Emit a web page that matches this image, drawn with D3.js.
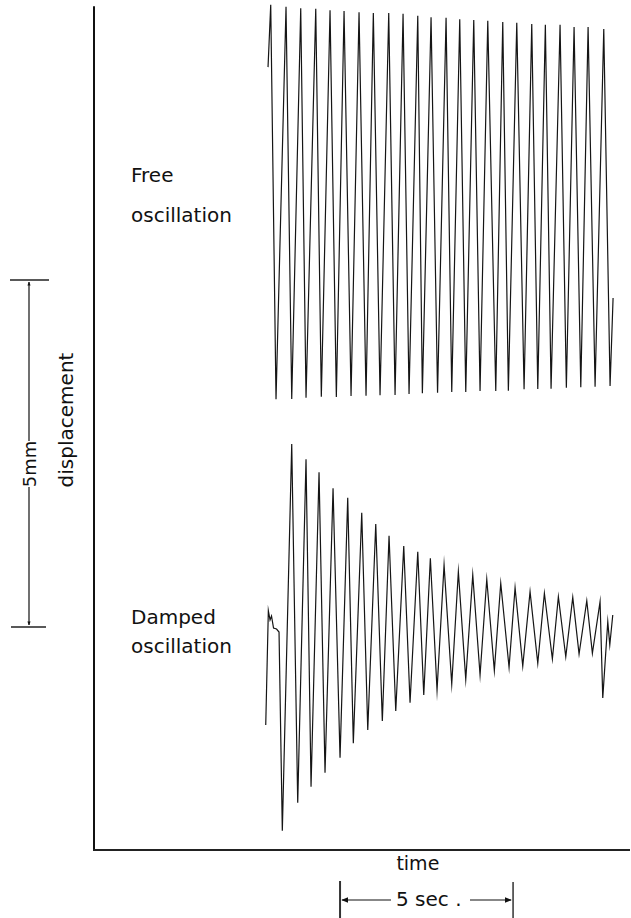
<!DOCTYPE html>
<html>
<head>
<meta charset="utf-8">
<script src="https://cdn.jsdelivr.net/npm/d3@7"></script>
<style>
  body { margin: 0; background: #fff; }
  svg { display: block; }
</style>
</head>
<body>
<svg id="chart"></svg>
<script>
// time in seconds, displacement in mm
const freeStart = [5.000, 11.28];
const freePeakT = [5.078, 5.520, 5.945, 6.379, 6.792, 7.197, 7.630, 8.043, 8.488, 8.902, 9.327, 9.711,
                   10.145, 10.540, 10.945, 11.350, 11.783, 12.188, 12.621, 13.014, 13.439, 13.844, 14.249, 14.702];
const freePeakY = [12.18, 12.15, 12.13, 12.12, 12.10, 12.09, 12.07, 12.06, 12.06, 12.05, 12.02, 12.00,
                   11.99, 11.97, 11.96, 11.95, 11.93, 11.92, 11.90, 11.89, 11.89, 11.86, 11.86, 11.83];
const freeTroughT = [5.231, 5.685, 6.098, 6.540, 6.974, 7.399, 7.832, 8.237, 8.671, 9.075, 9.460, 9.899,
                     10.309, 10.714, 11.127, 11.581, 11.945, 12.399, 12.795, 13.179, 13.621, 14.038, 14.451, 14.884];
const freeTroughY = [6.494, 6.499, 6.517, 6.532, 6.527, 6.542, 6.546, 6.552, 6.556, 6.571, 6.581, 6.589,
                     6.599, 6.599, 6.614, 6.614, 6.618, 6.638, 6.643, 6.647, 6.661, 6.667, 6.676, 6.686];
const freeEnd = [14.971, 7.954];

const dampStart = [[4.934, 1.801], [5.009, 3.448], [5.058, 3.314], [5.101, 3.372],
                   [5.159, 3.199], [5.246, 3.184], [5.318, 3.141]];
const dampTroughT = [5.413, 5.858, 6.243, 6.647, 7.081, 7.465, 7.882, 8.303, 8.691, 9.104, 9.500, 9.884,
                     10.309, 10.714, 11.127, 11.540, 11.965, 12.361, 12.795, 13.217, 13.604, 13.988, 14.373];
const dampTroughY = [0.278, 0.682, 0.912, 1.114, 1.330, 1.537, 1.729, 1.859, 2.003, 2.122, 2.233, 2.305,
                     2.392, 2.460, 2.522, 2.584, 2.633, 2.651, 2.690, 2.752, 2.785, 2.824, 2.834];
const dampPeakT = [5.685, 6.098, 6.474, 6.879, 7.303, 7.708, 8.113, 8.497, 8.922, 9.327, 9.691, 10.087,
                   10.500, 10.916, 11.321, 11.725, 12.139, 12.572, 12.986, 13.390, 13.806, 14.211, 14.595];
const dampPeakY = [5.850, 5.630, 5.442, 5.212, 5.076, 4.860, 4.697, 4.529, 4.380, 4.298, 4.203, 4.107,
                   4.010, 3.963, 3.901, 3.843, 3.780, 3.722, 3.699, 3.650, 3.641, 3.592, 3.578];
const dampTail = [[14.673, 2.190], [14.818, 3.290], [14.876, 2.954], [14.962, 3.386]];

// scale bars
const mmBar = [3.213, 8.213];   // 5 mm
const secBar = [7.081, 12.081]; // 5 sec

const width = 631;
const height = 918;

const x = d3.scaleLinear().domain([0, 15.46]).range([95, 630]);
const y = d3.scaleLinear().domain([0, 12.2]).range([850, 3.3]);

const svg = d3.select('#chart')
    .attr('width', width)
    .attr('height', height)
    .style('font-family', "'DejaVu Sans', sans-serif");

const defs = svg.append('defs');
function arrowHead(id, size) {
    defs.append('marker')
        .attr('id', id)
        .attr('viewBox', '0 0 10 10')
        .attr('refX', 9).attr('refY', 5)
        .attr('markerWidth', size).attr('markerHeight', size)
        .attr('markerUnits', 'userSpaceOnUse')
        .attr('orient', 'auto-start-reverse')
        .append('path')
        .attr('d', 'M0,1 L10,5 L0,9 Z')
        .attr('fill', '#111');
}
arrowHead('head', 7);
arrowHead('tiny', 4);

// build the traces, alternating turning points
let freePts = [freeStart];
freePeakT.forEach((t, i) => {
    freePts.push([t, freePeakY[i]]);
    freePts.push([freeTroughT[i], freeTroughY[i]]);
});
freePts.push(freeEnd);

let dampPts = dampStart.slice();
dampTroughT.forEach((t, i) => {
    dampPts.push([t, dampTroughY[i]]);
    dampPts.push([dampPeakT[i], dampPeakY[i]]);
});
dampPts = dampPts.concat(dampTail);

const line = d3.line().x(d => x(d[0])).y(d => y(d[1]));

svg.selectAll('path.trace')
    .data([freePts, dampPts])
    .join('path')
    .attr('class', 'trace')
    .attr('d', line)
    .attr('fill', 'none')
    .attr('stroke', '#151515')
    .attr('stroke-width', 1.2)
    .attr('stroke-linejoin', 'miter')
    .attr('stroke-miterlimit', 20);

// axes, no ticks
svg.append('line')
    .attr('x1', x(0) - 1).attr('x2', x(0) - 1)
    .attr('y1', y(12.2) + 3).attr('y2', y(0))
    .attr('stroke', '#111').attr('stroke-width', 2);
svg.append('line')
    .attr('x1', x(0) - 2).attr('x2', x(15.46))
    .attr('y1', y(0)).attr('y2', y(0))
    .attr('stroke', '#222').attr('stroke-width', 2);

svg.append('text')
    .attr('x', x(9.33)).attr('y', 870)
    .attr('text-anchor', 'middle')
    .attr('font-size', 19)
    .attr('fill', '#111')
    .text('time');

// trace labels
const labels = [
    { lines: ['Free', 'oscillation'], top: 182, gap: 40 },
    { lines: ['Damped', 'oscillation'], top: 624, gap: 29 }
];
labels.forEach(l => {
    const t = svg.append('text')
        .attr('font-size', 20)
        .attr('fill', '#111');
    l.lines.forEach((s, i) => {
        t.append('tspan').attr('x', 131).attr('y', l.top + i * l.gap).text(s);
    });
});

// 5 sec scale bar
const sy = 900;
svg.append('line')
    .attr('x1', x(secBar[0])).attr('x2', x(secBar[0]))
    .attr('y1', 881).attr('y2', 918)
    .attr('stroke', '#333').attr('stroke-width', 2);
svg.append('line')
    .attr('x1', x(secBar[1])).attr('x2', x(secBar[1]))
    .attr('y1', 882).attr('y2', 918)
    .attr('stroke', '#333').attr('stroke-width', 1.5);
svg.append('line')
    .attr('x1', 391).attr('x2', x(secBar[0]) + 2)
    .attr('y1', sy).attr('y2', sy)
    .attr('stroke', '#111').attr('stroke-width', 1.2)
    .attr('marker-end', 'url(#head)');
svg.append('line')
    .attr('x1', 470).attr('x2', x(secBar[1]) - 2)
    .attr('y1', sy).attr('y2', sy)
    .attr('stroke', '#111').attr('stroke-width', 1.2)
    .attr('marker-end', 'url(#head)');
svg.append('text')
    .attr('x', 396).attr('y', 906)
    .attr('font-size', 20)
    .attr('fill', '#111')
    .attr('xml:space', 'preserve')
    .text('5 sec .');

// 5 mm scale bar
const bx = 29;
svg.append('line')
    .attr('x1', 10).attr('x2', 49)
    .attr('y1', y(mmBar[1])).attr('y2', y(mmBar[1]))
    .attr('stroke', '#222').attr('stroke-width', 1.5);
svg.append('line')
    .attr('x1', 11).attr('x2', 46)
    .attr('y1', y(mmBar[0])).attr('y2', y(mmBar[0]))
    .attr('stroke', '#222').attr('stroke-width', 1.5);
svg.append('line')
    .attr('x1', bx).attr('x2', bx)
    .attr('y1', 441).attr('y2', y(mmBar[1]) + 2)
    .attr('stroke', '#111').attr('stroke-width', 1.2)
    .attr('marker-end', 'url(#tiny)');
svg.append('line')
    .attr('x1', bx).attr('x2', bx)
    .attr('y1', 487).attr('y2', y(mmBar[0]) - 2)
    .attr('stroke', '#111').attr('stroke-width', 1.2)
    .attr('marker-end', 'url(#tiny)');
svg.append('text')
    .attr('transform', `translate(${bx + 7},${464}) rotate(-90)`)
    .attr('text-anchor', 'middle')
    .attr('font-size', 18)
    .attr('fill', '#111')
    .text('5mm');

svg.append('text')
    .attr('transform', `translate(73,${420}) rotate(-90)`)
    .attr('text-anchor', 'middle')
    .attr('font-size', 20)
    .attr('fill', '#111')
    .text('displacement');
</script>
</body>
</html>
